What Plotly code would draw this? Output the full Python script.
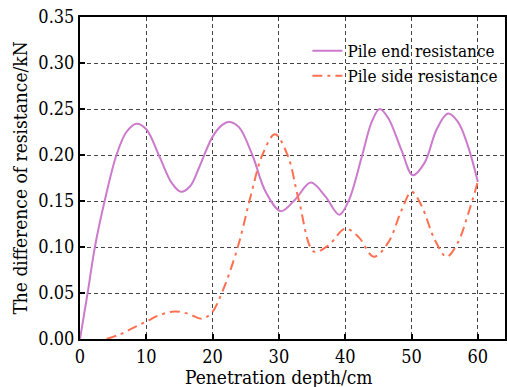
import plotly.graph_objects as go

# Pile end resistance
end_x = [0, 1.15, 2.25, 3.75, 5.5, 7.0, 8.5, 10.0, 12.0, 13.8, 15.2, 16.6, 18.0, 20.0, 21.5, 22.6, 24.0, 26.0, 28.0, 30.3, 32.5, 34.8, 37.0, 39.1, 40.5, 42.5, 44.0, 45.2, 46.5, 48.5, 50.2, 52.0, 53.8, 55.5, 57.0, 58.5, 60.0]
end_y = [0.0, 0.05, 0.10, 0.151, 0.200, 0.225, 0.234, 0.228, 0.198, 0.170, 0.160, 0.166, 0.187, 0.220, 0.233, 0.236, 0.230, 0.200, 0.160, 0.139, 0.152, 0.170, 0.155, 0.135, 0.150, 0.198, 0.236, 0.250, 0.240, 0.205, 0.178, 0.192, 0.228, 0.245, 0.236, 0.210, 0.171]

# Pile side resistance
side_x = [4.0, 6.0, 8.0, 10.0, 12.0, 14.3, 16.5, 18.3, 19.8, 21.5, 23.8, 25.8, 27.5, 29.4, 31.3, 33.0, 35.3, 37.5, 40.0, 42.0, 44.3, 46.5, 48.5, 50.0, 51.5, 53.5, 55.3, 57.0, 58.5, 60.0]
side_y = [0.0, 0.005, 0.012, 0.019, 0.026, 0.030, 0.027, 0.022, 0.028, 0.052, 0.100, 0.157, 0.200, 0.2225, 0.200, 0.151, 0.095, 0.102, 0.120, 0.111, 0.0895, 0.105, 0.140, 0.160, 0.145, 0.108, 0.0895, 0.105, 0.135, 0.171]

x_ticks = [0, 10, 20, 30, 40, 50, 60]
y_ticks = [0.00, 0.05, 0.10, 0.15, 0.20, 0.25, 0.30, 0.35]

font = "DejaVu Serif Condensed"

fig = go.Figure()
fig.add_trace(go.Scatter(x=end_x, y=end_y, mode="lines", name="Pile end resistance",
                         line=dict(color="#CC7ACC", width=2, shape="spline", smoothing=1.0)))
fig.add_trace(go.Scatter(x=side_x, y=side_y, mode="lines", name="Pile side resistance",
                         line=dict(color="#FF7050", width=2, shape="spline", smoothing=1.0,
                                   dash="10px,5px,3px,5px")))

fig.update_layout(
    width=507, height=387,
    margin=dict(l=80, r=0, t=17, b=48),
    paper_bgcolor="white", plot_bgcolor="white",
    font=dict(family=font, size=18, color="black"),
    showlegend=True,
    legend=dict(x=0.535, y=0.95, xanchor="left", yanchor="top", bgcolor="rgba(0,0,0,0)",
                font=dict(family=font, size=17), tracegroupgap=0, itemwidth=30),
    xaxis=dict(range=[0, 64.1], tickvals=x_ticks, ticktext=[str(v) for v in x_ticks],
               ticks="inside", ticklen=5, tickwidth=2, tickcolor="black",
               showline=True, linecolor="black", linewidth=2, mirror=True,
               showgrid=True, gridcolor="#444444", gridwidth=1, griddash="4px,3px",
               zeroline=False, tickfont=dict(family=font, size=18)),
    yaxis=dict(range=[0, 0.35], tickvals=y_ticks, ticktext=[f"{v:.2f}" for v in y_ticks],
               ticks="inside", ticklen=5, tickwidth=2, tickcolor="black",
               showline=True, linecolor="black", linewidth=2, mirror=True,
               showgrid=True, gridcolor="#444444", gridwidth=1, griddash="4px,3px",
               zeroline=False, tickfont=dict(family=font, size=18),
               title=dict(text="The difference of resistance/kN", font=dict(family=font, size=19), standoff=6)),
)

fig.add_annotation(text="Penetration depth/cm", xref="x", x=30, yref="paper", y=0, yshift=-25,
                   yanchor="top", showarrow=False, font=dict(family=font, size=19))

fig.write_html("out.html")
